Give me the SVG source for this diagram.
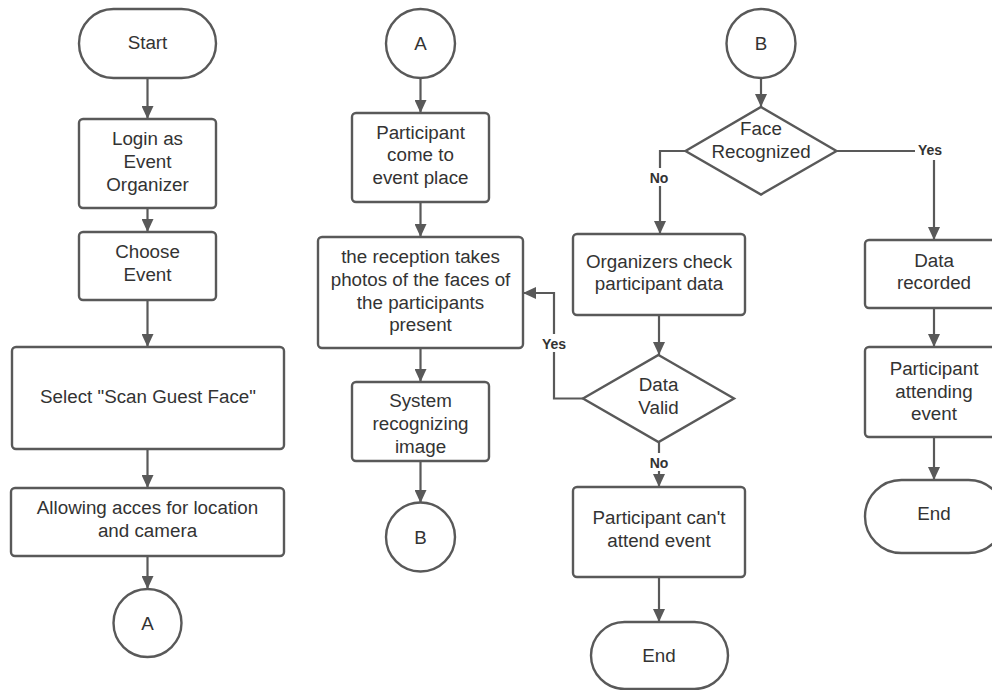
<svg xmlns="http://www.w3.org/2000/svg" width="992" height="690" viewBox="0 0 992 690">
  <defs>
    <marker id="arrow" viewBox="0 0 13 12" refX="13" refY="6" markerWidth="13" markerHeight="12" markerUnits="userSpaceOnUse" orient="auto">
      <path d="M0,0 L13,6 L0,12 z" fill="#595959"/>
    </marker>
    <style>
      .shape { fill: #ffffff; stroke: #595959; stroke-width: 2.4; }
      .txt { font-family: "Liberation Sans", Arial, sans-serif; font-size: 18.8px; fill: #333333; text-anchor: middle; }
      .lbl { font-family: "Liberation Sans", Arial, sans-serif; font-size: 14px; font-weight: bold; fill: #333333; text-anchor: middle; }
      .edge { fill: none; stroke: #595959; stroke-width: 2.2; }
      .lblbg { fill: #ffffff; }
    </style>
  </defs>
  <rect width="992" height="690" fill="#ffffff"/>

  <!-- connectors -->
  <g id="connectors">
    <path class="edge" d="M147.5,78 V119" marker-end="url(#arrow)"/>
    <path class="edge" d="M147.5,208 V232" marker-end="url(#arrow)"/>
    <path class="edge" d="M147.5,300 V347" marker-end="url(#arrow)"/>
    <path class="edge" d="M147.5,449 V488" marker-end="url(#arrow)"/>
    <path class="edge" d="M147.5,556 V589" marker-end="url(#arrow)"/>

    <path class="edge" d="M420.5,78 V113" marker-end="url(#arrow)"/>
    <path class="edge" d="M420.5,202 V237" marker-end="url(#arrow)"/>
    <path class="edge" d="M420.5,348 V382" marker-end="url(#arrow)"/>
    <path class="edge" d="M420.5,461 V503" marker-end="url(#arrow)"/>

    <path class="edge" d="M761,78 V107" marker-end="url(#arrow)"/>
    <path class="edge" d="M685.5,151 H660 V234" marker-end="url(#arrow)"/>
    <path class="edge" d="M836.5,151 H934 V240" marker-end="url(#arrow)"/>
    <path class="edge" d="M659,315 V355" marker-end="url(#arrow)"/>
    <path class="edge" d="M583,398.5 H554 V293 H523" marker-end="url(#arrow)"/>
    <path class="edge" d="M659,442 V487" marker-end="url(#arrow)"/>
    <path class="edge" d="M659,577 V622" marker-end="url(#arrow)"/>

    <path class="edge" d="M934,308 V347" marker-end="url(#arrow)"/>
    <path class="edge" d="M934,437 V480" marker-end="url(#arrow)"/>

    <!-- branch labels -->
    <rect class="lblbg" x="646" y="168" width="27" height="18"/>
    <text class="lbl" x="659" y="182.5">No</text>
    <rect class="lblbg" x="915" y="142" width="30" height="18"/>
    <text class="lbl" x="930" y="154.5">Yes</text>
    <rect class="lblbg" x="539" y="334" width="30" height="18"/>
    <text class="lbl" x="554" y="349">Yes</text>
    <rect class="lblbg" x="646" y="453" width="27" height="18"/>
    <text class="lbl" x="659" y="467.5">No</text>
  </g>

  <!-- left column -->
  <g id="start">
    <rect class="shape" x="79" y="9" width="137" height="69" rx="34.5"/>
    <text class="txt" x="147.5" y="49">Start</text>
  </g>
  <g id="login">
    <rect class="shape" x="79" y="119" width="137" height="89" rx="4"/>
    <text class="txt" x="147.5" y="145">Login as</text>
    <text class="txt" x="147.5" y="167.5">Event</text>
    <text class="txt" x="147.5" y="190.5">Organizer</text>
  </g>
  <g id="choose-event">
    <rect class="shape" x="79" y="232" width="137" height="68" rx="4"/>
    <text class="txt" x="147.5" y="258.3">Choose</text>
    <text class="txt" x="147.5" y="280.5">Event</text>
  </g>
  <g id="select-scan">
    <rect class="shape" x="12" y="347" width="272" height="102" rx="4"/>
    <text class="txt" x="148" y="403.3">Select "Scan Guest Face"</text>
  </g>
  <g id="allow-access">
    <rect class="shape" x="11" y="488" width="273" height="68" rx="4"/>
    <text class="txt" x="147.5" y="514">Allowing acces for location</text>
    <text class="txt" x="147.5" y="536.5">and camera</text>
  </g>
  <g id="connector-a-out">
    <circle class="shape" cx="147.5" cy="623" r="34"/>
    <text class="txt" x="147.5" y="629.5">A</text>
  </g>

  <!-- middle column -->
  <g id="connector-a-in">
    <circle class="shape" cx="420.5" cy="43.5" r="34.5"/>
    <text class="txt" x="420.5" y="49.5">A</text>
  </g>
  <g id="participant-arrive">
    <rect class="shape" x="352" y="113" width="137" height="89" rx="4"/>
    <text class="txt" x="420.5" y="138.5">Participant</text>
    <text class="txt" x="420.5" y="161.2">come to</text>
    <text class="txt" x="420.5" y="183.9">event place</text>
  </g>
  <g id="take-photos">
    <rect class="shape" x="318" y="237" width="205" height="111" rx="4"/>
    <text class="txt" x="420.5" y="263.3">the reception takes</text>
    <text class="txt" x="420.5" y="286">photos of the faces of</text>
    <text class="txt" x="420.5" y="308.7">the participants</text>
    <text class="txt" x="420.5" y="331.4">present</text>
  </g>
  <g id="recognize-image">
    <rect class="shape" x="352" y="382" width="137" height="79" rx="4"/>
    <text class="txt" x="420.5" y="407.3">System</text>
    <text class="txt" x="420.5" y="430">recognizing</text>
    <text class="txt" x="420.5" y="452.7">image</text>
  </g>
  <g id="connector-b-out">
    <circle class="shape" cx="420.5" cy="537" r="34.5"/>
    <text class="txt" x="420.5" y="543.5">B</text>
  </g>

  <!-- right part -->
  <g id="connector-b-in">
    <circle class="shape" cx="761" cy="43.5" r="34.5"/>
    <text class="txt" x="761" y="49.5">B</text>
  </g>
  <g id="face-recognized">
    <polygon class="shape" points="761,107 836.5,151 761,194.5 685.5,151"/>
    <text class="txt" x="761" y="135">Face</text>
    <text class="txt" x="761" y="157.5">Recognized</text>
  </g>
  <g id="check-data">
    <rect class="shape" x="573" y="234" width="172" height="81" rx="4"/>
    <text class="txt" x="659" y="267.5">Organizers check</text>
    <text class="txt" x="659" y="290">participant data</text>
  </g>
  <g id="data-valid">
    <polygon class="shape" points="658.5,355 734,398.5 658.5,442 583,398.5"/>
    <text class="txt" x="658.5" y="391">Data</text>
    <text class="txt" x="658.5" y="413.5">Valid</text>
  </g>
  <g id="cannot-attend">
    <rect class="shape" x="573" y="487" width="172" height="90" rx="4"/>
    <text class="txt" x="659" y="524.3">Participant can't</text>
    <text class="txt" x="659" y="546.8">attend event</text>
  </g>
  <g id="end-rejected">
    <rect class="shape" x="591" y="622" width="137" height="67" rx="33.5"/>
    <text class="txt" x="659" y="661.7">End</text>
  </g>
  <g id="data-recorded">
    <rect class="shape" x="865" y="240" width="138" height="68" rx="4"/>
    <text class="txt" x="934" y="266.7">Data</text>
    <text class="txt" x="934" y="289.2">recorded</text>
  </g>
  <g id="attending">
    <rect class="shape" x="865" y="347" width="138" height="90" rx="4"/>
    <text class="txt" x="934" y="375">Participant</text>
    <text class="txt" x="934" y="397.5">attending</text>
    <text class="txt" x="934" y="420">event</text>
  </g>
  <g id="end-accepted">
    <rect class="shape" x="865" y="480" width="140" height="73" rx="36.5"/>
    <text class="txt" x="934" y="520">End</text>
  </g>
</svg>
